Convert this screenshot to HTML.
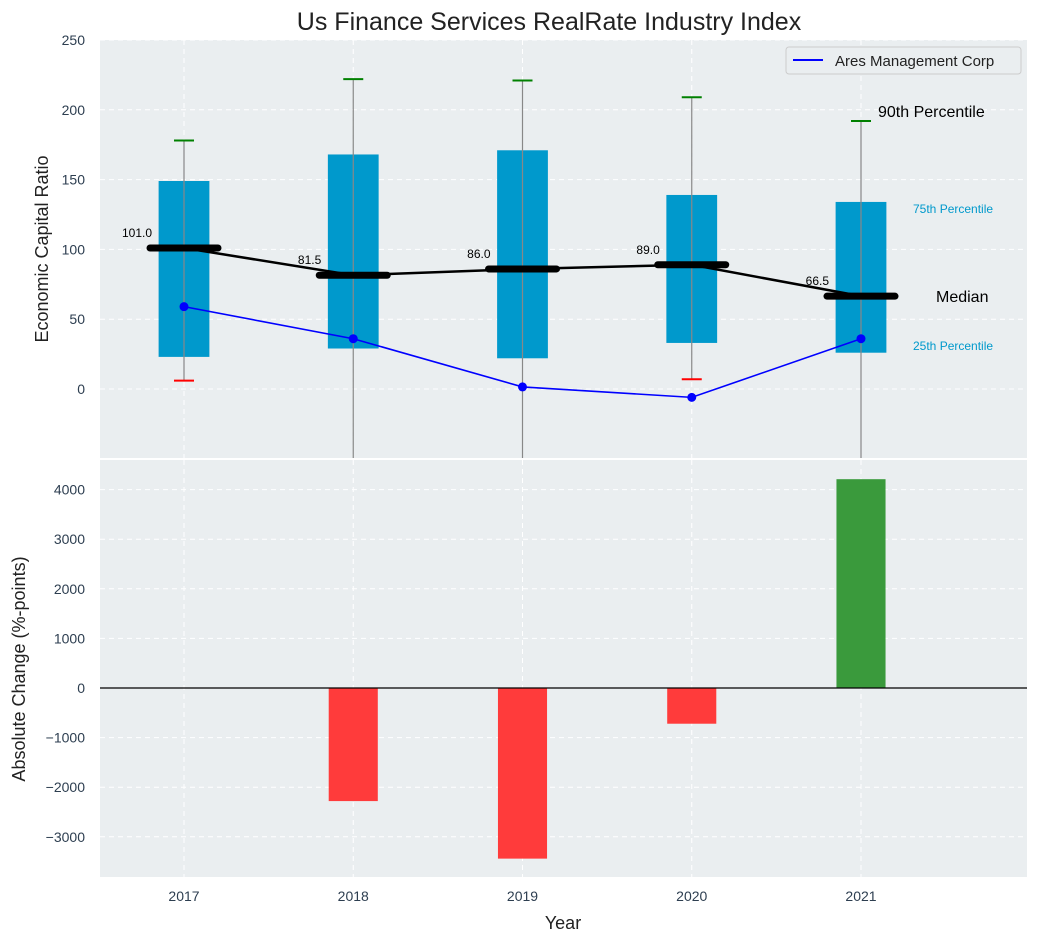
<!DOCTYPE html>
<html><head><meta charset="utf-8"><style>
body{margin:0;background:#fff;}
svg text{font-family:"Liberation Sans","DejaVu Sans",sans-serif;}
</style></head><body>
<svg id="chart" width="1039" height="942" xmlns="http://www.w3.org/2000/svg">
<text x="549" y="30" text-anchor="middle" font-size="25" fill="#222">Us Finance Services RealRate Industry Index</text>
<rect x="100" y="40" width="927" height="418" fill="#eaeef0"/>
<rect x="100" y="460" width="927" height="417" fill="#eaeef0"/>
<g id="g"></g>
<text x="48" y="249" transform="rotate(-90 48 249)" text-anchor="middle" font-size="18" fill="#222">Economic Capital Ratio</text>
<text x="25" y="669" transform="rotate(-90 25 669)" text-anchor="middle" font-size="18" fill="#222">Absolute Change (%-points)</text>
<text x="563" y="929" text-anchor="middle" font-size="18" fill="#222">Year</text>
<g>
<rect x="786" y="47" width="235" height="27" rx="3" fill="#eaeef0" stroke="#ccc"/>
<line x1="793" y1="60" x2="823" y2="60" stroke="#0000ff" stroke-width="2"/>
<text x="835" y="66" font-size="15" fill="#222">Ares Management Corp</text>
</g>
<text x="878" y="117" font-size="16" fill="#000">90th Percentile</text>
<text x="913" y="213" font-size="12" fill="#0099cc">75th Percentile</text>
<text x="936" y="302" font-size="16" fill="#000">Median</text>
<text x="913" y="350" font-size="12" fill="#0099cc">25th Percentile</text>
</svg>
<script>
const years=[2017,2018,2019,2020,2021];
const p25=[23,29,22,33,26];
const p75=[149,168,171,139,134];
const p90=[178,222,221,209,192];
const p10=[6,-80,-80,7,-80];
const medians=[101,81.5,86,89,66.5];
const ares=[59,36,1.5,-6,36];
const changes=[null,-2280,-3440,-720,4210];
const topTicks=[0,50,100,150,200,250];
const botTicks=[-3000,-2000,-1000,0,1000,2000,3000,4000];
const NS="http://www.w3.org/2000/svg";
const g=document.getElementById('g');
const X=v=>184+(v-2017)*169.25;
const Y1=v=>389-v*1.396;
const Y2=v=>688-v*0.0496;
function el(t,a,p){const e=document.createElementNS(NS,t);for(const k in a)e.setAttribute(k,a[k]);(p||g).appendChild(e);return e;}
// grids and ticks
topTicks.forEach(t=>{
 const l=el('line',{x1:100,x2:1027,y1:Y1(t),y2:Y1(t),stroke:'#fff','stroke-dasharray':'5,4'});
 
 const tx=el('text',{x:85,y:Y1(t)+5,'text-anchor':'end','font-size':14,fill:'#2d3e50'});tx.textContent=t;
 
});
botTicks.forEach(t=>{
 const l=el('line',{x1:100,x2:1027,y1:Y2(t),y2:Y2(t),stroke:'#fff','stroke-dasharray':'5,4'});
 
 const tx=el('text',{x:85,y:Y2(t)+5,'text-anchor':'end','font-size':14,fill:'#2d3e50'});tx.textContent=t<0?'\u2212'+(-t):t;
 
});
years.forEach((y,i)=>{
 [[40,458],[460,877]].forEach(r=>{const l=el('line',{x1:X(y),x2:X(y),y1:r[0],y2:r[1],stroke:'#fff','stroke-dasharray':'5,4'});
 });
 const tx=el('text',{x:X(y),y:901,'text-anchor':'middle','font-size':14,fill:'#2d3e50'});tx.textContent=y;
 
});
// boxes
const hw=0.15*169.25;
years.forEach((y,i)=>{
 const b=el('rect',{x:X(y)-hw,y:Y1(p75[i]),width:2*hw,height:Y1(p25[i])-Y1(p75[i]),fill:'#0099cc'});
 
 const lo=Math.max(Y1(p10[i]),0);
 const w=el('line',{x1:X(y),x2:X(y),y1:Y1(p90[i]),y2:Math.min(Y1(p10[i]),458),stroke:'#888','stroke-width':1.2});
 
 const c=el('line',{x1:X(y)-10,x2:X(y)+10,y1:Y1(p90[i]),y2:Y1(p90[i]),stroke:'green','stroke-width':2});
 
 if(p10[i]>-50){const c2=el('line',{x1:X(y)-10,x2:X(y)+10,y1:Y1(p10[i]),y2:Y1(p10[i]),stroke:'red','stroke-width':2});
 }
});
// median line
const mp=el('polyline',{points:years.map((y,i)=>X(y)+','+Y1(medians[i])).join(' '),fill:'none',stroke:'#000','stroke-width':2.5});

years.forEach((y,i)=>{
 const m=el('line',{x1:X(y)-34,x2:X(y)+34,y1:Y1(medians[i]),y2:Y1(medians[i]),stroke:'#000','stroke-width':7,'stroke-linecap':'round'});
 
 const t=el('text',{x:X(y)-32,y:Y1(medians[i])-11,'text-anchor':'end','font-size':12,fill:'#000'});t.textContent=medians[i].toFixed(1);
 
});
// ares line
const al=el('polyline',{points:years.map((y,i)=>X(y)+','+Y1(ares[i])).join(' '),fill:'none',stroke:'#0000ff','stroke-width':1.6});

years.forEach((y,i)=>{const c=el('circle',{cx:X(y),cy:Y1(ares[i]),r:4.5,fill:'#0000ff'});
 });
// bars
years.forEach((y,i)=>{
 if(changes[i]==null)return;
 const v=changes[i];
 const r=el('rect',{x:X(y)-0.145*169.25,width:0.29*169.25,y:Math.min(Y2(v),Y2(0)),height:Math.abs(Y2(v)-Y2(0)),fill:v<0?'#ff3b3b':'#3a9a3c'});
 
});
const z=el('line',{x1:100,x2:1027,y1:Y2(0),y2:Y2(0),stroke:'#000','stroke-width':1.2});

</script>
</body></html>
